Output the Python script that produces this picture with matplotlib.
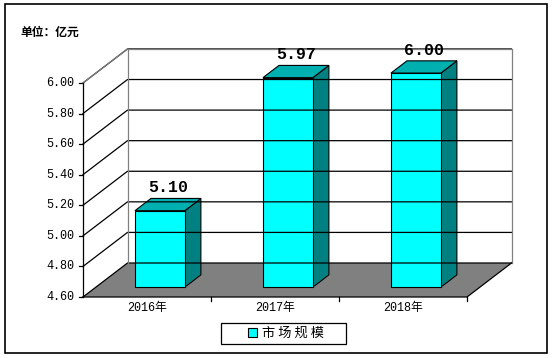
import matplotlib
matplotlib.use("Agg")
import matplotlib.pyplot as plt
from matplotlib.patches import Polygon, Rectangle, Patch

plt.rcParams['font.family'] = ['Noto Sans CJK SC', 'DejaVu Sans']
MONO = ['Liberation Mono', 'Noto Sans CJK SC']

# data
years = ['2016年', '2017年', '2018年']
values = [5.10, 5.97, 6.00]
yticks = [4.60, 4.80, 5.00, 5.20, 5.40, 5.60, 5.80, 6.00]
unit_label = '单位：亿元'
series_name = '市场规模'

# oblique "3D" layout in pixel space
X0, W = 83, 384          # front-left of the floor, floor width
Y0, PX = 297, 152.9      # pixel row of vmin, pixels per unit
DX, DY = 44.5, -34       # depth offset of the back wall
vmin, vmax = yticks[0], yticks[-1]
ncat = len(years)
catw = W / ncat
bar_frac = 0.39
d1, d2 = 0.29, 0.65      # bar front/back depth


def P(xf, v, d):
    return (xf + d * DX, Y0 - (v - vmin) * PX + d * DY)


fig = plt.figure(figsize=(5.55, 3.58), dpi=100)
ax = fig.add_axes([0, 0, 1, 1])
ax.set_xlim(0, 555)
ax.set_ylim(358, 0)
ax.axis('off')

# outer frame
ax.add_patch(Rectangle((5, 4), 542, 349, fill=False, ec='black', lw=1.2))

# gridlines: back wall + left side wall
for v in yticks:
    a, b = P(X0, v, 0), P(X0, v, 1)
    c = P(X0 + W, v, 1)
    ax.plot([a[0], b[0], c[0]], [a[1], b[1], c[1]], color='black', lw=0.9)
    ax.plot([X0 - 4, X0], [a[1], a[1]], color='black', lw=0.9)
    ax.text(X0 - 9, a[1], f'{v:.2f}', ha='right', va='center',
            fontsize=8.5, family=MONO)

# wall outline (gray)
bl, tl = P(X0, vmin, 1), P(X0, vmax, 1)
tr, br = P(X0 + W, vmax, 1), P(X0 + W, vmin, 1)
ftop = P(X0, vmax, 0)
ax.plot([bl[0], tl[0], tr[0], br[0]], [bl[1], tl[1], tr[1], br[1]], color='#808080', lw=0.9)
ax.plot([ftop[0], tl[0]], [ftop[1], tl[1]], color='#808080', lw=0.9)

# floor
floor = [P(X0, vmin, 0), P(X0 + W, vmin, 0), P(X0 + W, vmin, 1), P(X0, vmin, 1)]
ax.add_patch(Polygon(floor, closed=True, fc='#808080', ec='none'))
fl, fr = floor[0], floor[1]
ax.plot([fl[0], fr[0], floor[2][0]], [fl[1], fr[1], floor[2][1]], color='black', lw=0.9)
ax.plot([X0, X0], [P(X0, vmax, 0)[1], fl[1]], color='black', lw=0.9)
for i in range(1, ncat + 1):
    x = X0 + i * catw
    ax.plot([x, x], [fl[1], fl[1] + 4], color='black', lw=0.9)

# bars
for i, (yr, v) in enumerate(zip(years, values)):
    cx = X0 + (i + 0.5) * catw
    xl, xr = cx - bar_frac * catw / 2, cx + bar_frac * catw / 2
    front = [P(xl, vmin, d1), P(xr, vmin, d1), P(xr, v, d1), P(xl, v, d1)]
    side = [P(xr, vmin, d1), P(xr, vmin, d2), P(xr, v, d2), P(xr, v, d1)]
    top = [P(xl, v, d1), P(xr, v, d1), P(xr, v, d2), P(xl, v, d2)]
    ax.add_patch(Polygon(side, closed=True, fc='#008080', ec='black', lw=0.8))
    ax.add_patch(Polygon(top, closed=True, fc='#00AFAF', ec='black', lw=0.8))
    ax.add_patch(Polygon(front, closed=True, fc='#00FFFF', ec='black', lw=0.8))
    lx, ly = P(cx + 4, v, d2)
    ax.text(lx - 12, ly - 3, f'{v:.2f}', ha='center', va='bottom',
            fontsize=12, fontweight='bold', family=MONO)
    ax.text(cx, fl[1] + 11, yr, ha='center', va='center', fontsize=8.5, family=MONO)

ax.text(20, 32, unit_label, ha='left', va='center', fontsize=8.5, fontweight='bold')

# legend: frame drawn separately to get the wide box
ax.add_patch(Rectangle((221, 323), 125, 21, fill=False, ec='black', lw=0.9))
leg = fig.legend(handles=[Patch(fc='#00FFFF', ec='black', lw=0.8, label=series_name)],
                 loc='center', bbox_to_anchor=(0.515, 0.068), fontsize=9.5,
                 frameon=False, handlelength=0.7, handleheight=0.7,
                 handletextpad=0.4, borderpad=0.2, borderaxespad=0)
for t in leg.get_texts():
    t.set_text('市 场 规 模')

fig.savefig('out.png', dpi=100)
